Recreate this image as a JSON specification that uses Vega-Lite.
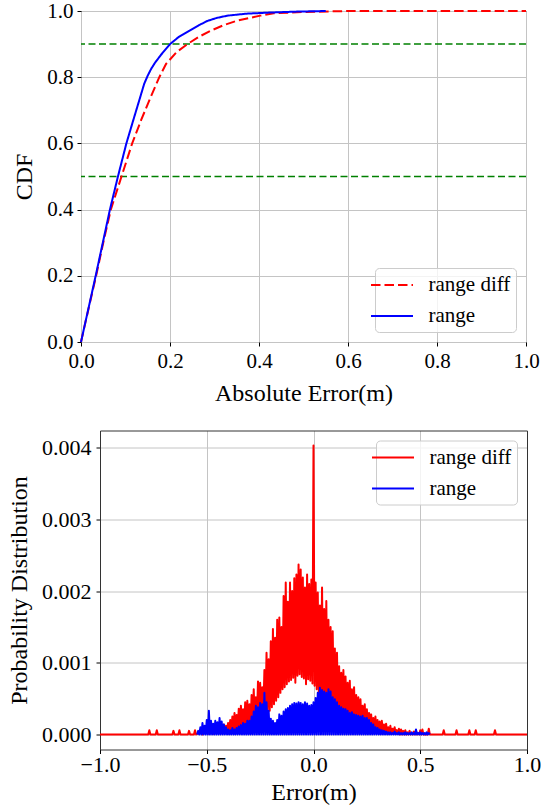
{
 "$schema": "https://vega.github.io/schema/vega-lite/v6.json",
 "padding": {"left": 7, "top": -1, "right": 0, "bottom": 0},
 "background": "white",
 "spacing": 24.5,
 "config": {
  "font": "Liberation Serif",
  "view": {"stroke": "black", "strokeWidth": 1},
  "axis": {"grid": true, "gridColor": "#c4c4c4", "gridWidth": 1, "domain": false, "tickColor": "black", "tickSize": 4, "tickWidth": 1, "labelFont": "Liberation Serif", "labelColor": "black", "labelFontSize": 21, "titleFont": "Liberation Serif", "titleFontWeight": "normal", "titleColor": "black", "titleFontSize": 24, "labelFlush": false, "labelOverlap": false},
  "legend": {"labelFont": "Liberation Serif", "labelFontSize": 21, "labelColor": "black", "symbolType": "M-2,0H2", "symbolSize": 441, "symbolStrokeWidth": 2, "labelOffset": 25, "padding": 5.5, "rowPadding": 9, "fillColor": "rgba(255,255,255,0.8)", "strokeColor": "#cccccc", "cornerRadius": 4, "offset": 10, "labelLimit": 300}
 },
 "resolve": {"scale": {"color": "independent", "strokeDash": "independent"}},
 "datasets": {
  "cdfDiff": [
   {"series":"range diff","err":0,"cdf":0},{"series":"range diff","err":0.01,"cdf":0.06},{"series":"range diff","err":0.034,"cdf":0.2},{"series":"range diff","err":0.05,"cdf":0.3},{"series":"range diff","err":0.067,"cdf":0.4},{"series":"range diff","err":0.091,"cdf":0.5},{"series":"range diff","err":0.115,"cdf":0.6},{"series":"range diff","err":0.135,"cdf":0.67},{"series":"range diff","err":0.155,"cdf":0.735},{"series":"range diff","err":0.176,"cdf":0.8},{"series":"range diff","err":0.191,"cdf":0.84},{"series":"range diff","err":0.215,"cdf":0.876},{"series":"range diff","err":0.239,"cdf":0.9},{"series":"range diff","err":0.265,"cdf":0.922},{"series":"range diff","err":0.291,"cdf":0.94},{"series":"range diff","err":0.32,"cdf":0.957},{"series":"range diff","err":0.351,"cdf":0.971},{"series":"range diff","err":0.403,"cdf":0.986},{"series":"range diff","err":0.433,"cdf":0.993},{"series":"range diff","err":0.5,"cdf":0.997},{"series":"range diff","err":0.6,"cdf":1.0},{"series":"range diff","err":1.0,"cdf":1.0}
  ],
  "cdfRange": [
   {"series":"range","err":0,"cdf":0},{"series":"range","err":0.033,"cdf":0.2},{"series":"range","err":0.065,"cdf":0.4},{"series":"range","err":0.083,"cdf":0.5},{"series":"range","err":0.102,"cdf":0.6},{"series":"range","err":0.117,"cdf":0.668},{"series":"range","err":0.132,"cdf":0.735},{"series":"range","err":0.142,"cdf":0.78},{"series":"range","err":0.15,"cdf":0.805},{"series":"range","err":0.158,"cdf":0.826},{"series":"range","err":0.167,"cdf":0.845},{"series":"range","err":0.18,"cdf":0.868},{"series":"range","err":0.2,"cdf":0.9},{"series":"range","err":0.22,"cdf":0.922},{"series":"range","err":0.243,"cdf":0.94},{"series":"range","err":0.265,"cdf":0.957},{"series":"range","err":0.284,"cdf":0.97},{"series":"range","err":0.305,"cdf":0.979},{"series":"range","err":0.329,"cdf":0.986},{"series":"range","err":0.373,"cdf":0.992},{"series":"range","err":0.42,"cdf":0.995},{"series":"range","err":0.48,"cdf":0.998},{"series":"range","err":0.55,"cdf":1.0}
  ],
  "pdfDiff": [
   {"x":-1,"p":0},{"x":-0.774,"p":0},{"x":-0.769,"p":0.00006},{"x":-0.764,"p":0},{"x":-0.739,"p":0},{"x":-0.734,"p":0.00006},{"x":-0.729,"p":0},{"x":-0.661,"p":0},{"x":-0.656,"p":0.00005},{"x":-0.651,"p":0},{"x":-0.633,"p":0},{"x":-0.628,"p":0.00006},{"x":-0.623,"p":0},{"x":-0.588,"p":0},{"x":-0.583,"p":0.00005},{"x":-0.578,"p":0},{"x":-0.56,"p":0},{"x":-0.555,"p":0.00006},{"x":-0.55,"p":0},{"x":-0.53,"p":0.00003},{"x":-0.52,"p":0},{"x":-0.5,"p":0.00005},{"x":-0.49,"p":0.00001},{"x":-0.48,"p":0.00004},{"x":-0.47,"p":0.00001},{"x":-0.46,"p":0.00006},{"x":-0.45,"p":0.00002},{"x":-0.44,"p":0.00008},{"x":-0.43,"p":0.00003},
   {"x":-0.42,"p":0.00014},{"x":-0.415,"p":0.00004},{"x":-0.41,"p":0.00012},{"x":-0.405,"p":0.00003},{"x":-0.4,"p":0.00016},{"x":-0.395,"p":0.00005},{"x":-0.39,"p":0.0002},{"x":-0.385,"p":0.00004},{"x":-0.38,"p":0.00025},{"x":-0.375,"p":0.00006},{"x":-0.37,"p":0.0003},{"x":-0.365,"p":0.00005},{"x":-0.36,"p":0.00027},{"x":-0.355,"p":0.00007},{"x":-0.35,"p":0.00036},{"x":-0.345,"p":0.00006},{"x":-0.34,"p":0.0004},{"x":-0.335,"p":0.00008},{"x":-0.33,"p":0.00035},{"x":-0.325,"p":0.00007},{"x":-0.32,"p":0.00045},{"x":-0.315,"p":0.00009},{"x":-0.31,"p":0.00047},{"x":-0.305,"p":0.0001},{"x":-0.3,"p":0.00042},{"x":-0.295,"p":0.00012},{"x":-0.29,"p":0.00055},{"x":-0.285,"p":0.00014},{"x":-0.28,"p":0.00063},{"x":-0.275,"p":0.00018},{"x":-0.27,"p":0.00052},{"x":-0.265,"p":0.0002},{"x":-0.26,"p":0.00074},{"x":-0.255,"p":0.00024},{"x":-0.25,"p":0.00072},{"x":-0.245,"p":0.00028},{"x":-0.24,"p":0.00066},{"x":-0.235,"p":0.0003},{"x":-0.23,"p":0.0009},{"x":-0.225,"p":0.00033},{"x":-0.22,"p":0.00114},{"x":-0.215,"p":0.00035},{"x":-0.21,"p":0.00105},{"x":-0.205,"p":0.00033},{"x":-0.2,"p":0.0013},{"x":-0.195,"p":0.00038},{"x":-0.19,"p":0.00147},{"x":-0.185,"p":0.00042},{"x":-0.18,"p":0.00135},{"x":-0.175,"p":0.00047},{"x":-0.17,"p":0.0016},{"x":-0.165,"p":0.00052},{"x":-0.16,"p":0.00163},{"x":-0.155,"p":0.00058},{"x":-0.15,"p":0.0015},{"x":-0.145,"p":0.00063},{"x":-0.14,"p":0.00193},{"x":-0.135,"p":0.00066},{"x":-0.13,"p":0.00212},{"x":-0.125,"p":0.0007},{"x":-0.12,"p":0.00185},{"x":-0.115,"p":0.00074},{"x":-0.11,"p":0.00212},{"x":-0.105,"p":0.00076},{"x":-0.1,"p":0.002},{"x":-0.095,"p":0.00079},{"x":-0.09,"p":0.00218},{"x":-0.085,"p":0.00072},{"x":-0.08,"p":0.00223},{"x":-0.075,"p":0.00082},{"x":-0.07,"p":0.00237},{"x":-0.065,"p":0.00084},{"x":-0.06,"p":0.0023},{"x":-0.055,"p":0.0008},{"x":-0.05,"p":0.00219},{"x":-0.045,"p":0.00078},{"x":-0.04,"p":0.00205},{"x":-0.035,"p":0.0007},{"x":-0.03,"p":0.00223},{"x":-0.025,"p":0.00077},{"x":-0.02,"p":0.0021},{"x":-0.015,"p":0.00075},{"x":-0.01,"p":0.00216},{"x":-0.005,"p":0.00071},
   {"x":0,"p":0.00403},{"x":0.005,"p":0.00068},{"x":0.01,"p":0.00212},{"x":0.015,"p":0.00063},{"x":0.02,"p":0.00198},{"x":0.025,"p":0.00058},{"x":0.03,"p":0.0018},{"x":0.035,"p":0.00054},{"x":0.04,"p":0.00205},{"x":0.045,"p":0.0005},{"x":0.05,"p":0.00175},{"x":0.055,"p":0.00048},{"x":0.06,"p":0.00186},{"x":0.065,"p":0.00045},{"x":0.07,"p":0.0016},{"x":0.075,"p":0.00042},{"x":0.08,"p":0.0015},{"x":0.085,"p":0.0004},{"x":0.09,"p":0.00144},{"x":0.095,"p":0.00036},{"x":0.1,"p":0.0012},{"x":0.105,"p":0.00033},{"x":0.11,"p":0.00114},{"x":0.115,"p":0.0003},{"x":0.12,"p":0.00095},{"x":0.125,"p":0.00028},{"x":0.13,"p":0.00086},{"x":0.135,"p":0.00026},{"x":0.14,"p":0.0009},{"x":0.145,"p":0.00024},{"x":0.15,"p":0.00081},{"x":0.155,"p":0.00022},{"x":0.16,"p":0.00072},{"x":0.165,"p":0.0002},{"x":0.17,"p":0.00075},{"x":0.175,"p":0.00018},{"x":0.18,"p":0.00063},{"x":0.185,"p":0.00017},{"x":0.19,"p":0.00066},{"x":0.195,"p":0.00015},{"x":0.2,"p":0.00055},{"x":0.205,"p":0.00014},{"x":0.21,"p":0.00052},{"x":0.215,"p":0.00013},{"x":0.22,"p":0.00049},{"x":0.225,"p":0.00012},{"x":0.23,"p":0.0004},{"x":0.235,"p":0.00011},{"x":0.24,"p":0.00042},{"x":0.245,"p":0.0001},{"x":0.25,"p":0.00035},{"x":0.255,"p":0.00009},{"x":0.26,"p":0.0003},{"x":0.265,"p":0.00008},{"x":0.27,"p":0.00028},{"x":0.275,"p":0.00007},{"x":0.28,"p":0.00023},{"x":0.285,"p":0.00006},{"x":0.29,"p":0.00025},{"x":0.295,"p":0.00005},{"x":0.3,"p":0.0002},{"x":0.305,"p":0.00005},{"x":0.31,"p":0.00018},{"x":0.315,"p":0.00004},{"x":0.32,"p":0.00019},{"x":0.325,"p":0.00004},{"x":0.33,"p":0.00014},{"x":0.335,"p":0.00003},{"x":0.34,"p":0.00015},{"x":0.345,"p":0.00003},{"x":0.35,"p":0.0001},{"x":0.355,"p":0.00002},{"x":0.36,"p":0.00012},{"x":0.365,"p":0.00002},{"x":0.37,"p":0.00008},{"x":0.375,"p":0.00001},{"x":0.38,"p":0.0001},{"x":0.385,"p":0.00001},{"x":0.39,"p":0.00006},{"x":0.395,"p":0.00001},{"x":0.4,"p":0.00008},{"x":0.405,"p":0},{"x":0.41,"p":0.00007},{"x":0.415,"p":0},{"x":0.42,"p":0.00005},{"x":0.425,"p":0},{"x":0.43,"p":0.00006},{"x":0.435,"p":0},{"x":0.44,"p":0.00003},{"x":0.445,"p":0},{"x":0.45,"p":0.00005},{"x":0.455,"p":0},{"x":0.46,"p":0.00002},{"x":0.465,"p":0},{"x":0.47,"p":0.00004},{"x":0.475,"p":0},{"x":0.48,"p":0.00005},{"x":0.485,"p":0},{"x":0.49,"p":0.00002},{"x":0.495,"p":0},{"x":0.5,"p":0.00006},{"x":0.505,"p":0},{"x":0.51,"p":0.00007},{"x":0.515,"p":0},{"x":0.535,"p":0},{"x":0.54,"p":0.00008},{"x":0.545,"p":0},{"x":0.605,"p":0},{"x":0.61,"p":0.00006},{"x":0.615,"p":0},{"x":0.665,"p":0},{"x":0.67,"p":0.00006},{"x":0.675,"p":0},{"x":0.725,"p":0},{"x":0.73,"p":0.00006},{"x":0.735,"p":0},{"x":0.755,"p":0},{"x":0.76,"p":0.00006},{"x":0.765,"p":0},{"x":0.845,"p":0},{"x":0.85,"p":0.00006},{"x":0.855,"p":0},{"x":1,"p":0}
  ],
  "pdfRange": [
   {"x":-0.545,"p":0},{"x":-0.54,"p":0.00005},{"x":-0.535,"p":0},{"x":-0.53,"p":0.0001},{"x":-0.525,"p":0},{"x":-0.52,"p":0.00016},{"x":-0.515,"p":0},{"x":-0.51,"p":0.00012},{"x":-0.505,"p":0},{"x":-0.5,"p":0.0002},{"x":-0.495,"p":0},{"x":-0.49,"p":0.00033},{"x":-0.485,"p":0},{"x":-0.48,"p":0.00019},{"x":-0.475,"p":0},{"x":-0.47,"p":0.00015},{"x":-0.465,"p":0},{"x":-0.46,"p":0.00019},{"x":-0.455,"p":0},{"x":-0.45,"p":0.00017},{"x":-0.445,"p":0},{"x":-0.44,"p":0.00023},{"x":-0.435,"p":0},{"x":-0.43,"p":0.00018},{"x":-0.425,"p":0},{"x":-0.42,"p":0.00014},{"x":-0.415,"p":0},{"x":-0.41,"p":0.0001},{"x":-0.405,"p":0},{"x":-0.4,"p":0.00007},{"x":-0.395,"p":0},{"x":-0.39,"p":0.00006},{"x":-0.385,"p":0},{"x":-0.38,"p":0.00009},{"x":-0.375,"p":0},{"x":-0.37,"p":0.00007},{"x":-0.365,"p":0},{"x":-0.36,"p":0.00009},{"x":-0.355,"p":0},{"x":-0.35,"p":0.00011},{"x":-0.345,"p":0},{"x":-0.34,"p":0.00013},{"x":-0.335,"p":0},{"x":-0.33,"p":0.00016},{"x":-0.325,"p":0},{"x":-0.32,"p":0.00015},{"x":-0.315,"p":0},{"x":-0.31,"p":0.00019},{"x":-0.305,"p":0},{"x":-0.3,"p":0.00019},{"x":-0.295,"p":0},{"x":-0.29,"p":0.00025},{"x":-0.285,"p":0},{"x":-0.28,"p":0.00032},{"x":-0.275,"p":0},{"x":-0.27,"p":0.0004},{"x":-0.265,"p":0},{"x":-0.26,"p":0.00038},{"x":-0.255,"p":0},{"x":-0.25,"p":0.00044},{"x":-0.245,"p":0},{"x":-0.24,"p":0.00042},{"x":-0.235,"p":0},{"x":-0.23,"p":0.00058},{"x":-0.225,"p":0},{"x":-0.22,"p":0.00045},{"x":-0.215,"p":0},{"x":-0.21,"p":0.00033},{"x":-0.205,"p":0},{"x":-0.2,"p":0.00022},{"x":-0.195,"p":0},{"x":-0.19,"p":0.00019},{"x":-0.185,"p":0},{"x":-0.18,"p":0.00016},{"x":-0.175,"p":0},{"x":-0.17,"p":0.0002},{"x":-0.165,"p":0},{"x":-0.16,"p":0.00028},{"x":-0.155,"p":0},{"x":-0.15,"p":0.00026},{"x":-0.145,"p":0},{"x":-0.14,"p":0.00032},{"x":-0.135,"p":0},{"x":-0.13,"p":0.00035},{"x":-0.125,"p":0},{"x":-0.12,"p":0.00037},{"x":-0.115,"p":0},{"x":-0.11,"p":0.0004},{"x":-0.105,"p":0},{"x":-0.1,"p":0.00042},{"x":-0.095,"p":0},{"x":-0.09,"p":0.00044},{"x":-0.085,"p":0},{"x":-0.08,"p":0.00043},{"x":-0.075,"p":0},{"x":-0.07,"p":0.00045},{"x":-0.065,"p":0},{"x":-0.06,"p":0.00044},{"x":-0.055,"p":0},{"x":-0.05,"p":0.00042},{"x":-0.045,"p":0},{"x":-0.04,"p":0.00045},{"x":-0.035,"p":0},{"x":-0.03,"p":0.00043},{"x":-0.025,"p":0},{"x":-0.02,"p":0.0004},{"x":-0.015,"p":0},{"x":-0.01,"p":0.00041},{"x":-0.005,"p":0},
   {"x":0,"p":0.00045},{"x":0.005,"p":0},{"x":0.01,"p":0.00051},{"x":0.015,"p":0},{"x":0.02,"p":0.00058},{"x":0.025,"p":0},{"x":0.03,"p":0.00065},{"x":0.035,"p":0},{"x":0.04,"p":0.00062},{"x":0.045,"p":0},{"x":0.05,"p":0.0006},{"x":0.055,"p":0},{"x":0.06,"p":0.00058},{"x":0.065,"p":0},{"x":0.07,"p":0.00063},{"x":0.075,"p":0},{"x":0.08,"p":0.0006},{"x":0.085,"p":0},{"x":0.09,"p":0.00052},{"x":0.095,"p":0},{"x":0.1,"p":0.00049},{"x":0.105,"p":0},{"x":0.11,"p":0.00045},{"x":0.115,"p":0},{"x":0.12,"p":0.0004},{"x":0.125,"p":0},{"x":0.13,"p":0.00038},{"x":0.135,"p":0},{"x":0.14,"p":0.00036},{"x":0.145,"p":0},{"x":0.15,"p":0.00035},{"x":0.155,"p":0},{"x":0.16,"p":0.00033},{"x":0.165,"p":0},{"x":0.17,"p":0.0003},{"x":0.175,"p":0},{"x":0.18,"p":0.00031},{"x":0.185,"p":0},{"x":0.19,"p":0.00028},{"x":0.195,"p":0},{"x":0.2,"p":0.00027},{"x":0.205,"p":0},{"x":0.21,"p":0.00026},{"x":0.215,"p":0},{"x":0.22,"p":0.00025},{"x":0.225,"p":0},{"x":0.23,"p":0.00026},{"x":0.235,"p":0},{"x":0.24,"p":0.00023},{"x":0.245,"p":0},{"x":0.25,"p":0.00023},{"x":0.255,"p":0},{"x":0.26,"p":0.0002},{"x":0.265,"p":0},{"x":0.27,"p":0.00016},{"x":0.275,"p":0},{"x":0.28,"p":0.00014},{"x":0.285,"p":0},{"x":0.29,"p":0.0001},{"x":0.295,"p":0},{"x":0.3,"p":0.00009},{"x":0.305,"p":0},{"x":0.31,"p":0.00007},{"x":0.315,"p":0},{"x":0.32,"p":0.00006},{"x":0.325,"p":0},{"x":0.33,"p":0.00005},{"x":0.335,"p":0},{"x":0.34,"p":0.00004},{"x":0.345,"p":0},{"x":0.35,"p":0.00003},{"x":0.355,"p":0},{"x":0.36,"p":0.00003},{"x":0.365,"p":0},{"x":0.37,"p":0.00002},{"x":0.375,"p":0},{"x":0.38,"p":0.00004},{"x":0.385,"p":0},{"x":0.39,"p":0.00002},{"x":0.395,"p":0},{"x":0.4,"p":0.00003},{"x":0.405,"p":0},{"x":0.41,"p":0.00002},{"x":0.415,"p":0},{"x":0.42,"p":0.00002},{"x":0.425,"p":0},{"x":0.43,"p":0.00003},{"x":0.435,"p":0},{"x":0.44,"p":0.00002},{"x":0.445,"p":0},{"x":0.45,"p":0.00002},{"x":0.455,"p":0},{"x":0.46,"p":0.00003},{"x":0.465,"p":0},{"x":0.47,"p":0.00002},{"x":0.475,"p":0},{"x":0.48,"p":0.00007},{"x":0.485,"p":0},{"x":0.49,"p":0.00002},{"x":0.495,"p":0},{"x":0.5,"p":0.00003},{"x":0.505,"p":0},{"x":0.51,"p":0.00002},{"x":0.515,"p":0},{"x":0.52,"p":0.00002},{"x":0.525,"p":0},{"x":0.53,"p":0.00003},{"x":0.535,"p":0},{"x":0.54,"p":0.00002},{"x":0.545,"p":0}
  ]
 },
 "vconcat": [
  {
   "width": 445,
   "height": 331,
   "layer": [
    {
     "data": {"values": [{"cdf": 0.5}, {"cdf": 0.9}]},
     "mark": {"type": "rule", "color": "#008000", "strokeWidth": 1.5, "strokeDash": [7, 3.5]},
     "encoding": {
      "y": {"field": "cdf", "type": "quantitative", "scale": {"domain": [0, 1], "nice": false}, "axis": {"title": "CDF", "values": [0, 0.2, 0.4, 0.6, 0.8, 1], "format": ".1f", "labelPadding": 4, "titlePadding": 10.75}}
     }
    },
    {
     "data": {"name": "cdfDiff"},
     "mark": {"type": "line", "strokeWidth": 2, "strokeJoin": "round"},
     "encoding": {
      "x": {"field": "err", "type": "quantitative", "scale": {"domain": [0, 1], "nice": false}, "axis": {"title": "Absolute Error(m)", "values": [0, 0.2, 0.4, 0.6, 0.8, 1], "format": ".1f", "labelPadding": 4, "titlePadding": 10.5}},
      "y": {"field": "cdf", "type": "quantitative"},
      "color": {"field": "series", "type": "nominal", "scale": {"domain": ["range diff", "range"], "range": ["#ff0000", "#0000ff"]}, "legend": {"orient": "bottom-right", "title": null}},
      "strokeDash": {"field": "series", "type": "nominal", "scale": {"domain": ["range diff", "range"], "range": [[9.5, 4], [1, 0]]}, "legend": {"orient": "bottom-right", "title": null}}
     }
    },
    {
     "data": {"name": "cdfRange"},
     "mark": {"type": "line", "strokeWidth": 2, "strokeJoin": "round"},
     "encoding": {
      "x": {"field": "err", "type": "quantitative"},
      "y": {"field": "cdf", "type": "quantitative"},
      "color": {"field": "series", "type": "nominal"},
      "strokeDash": {"field": "series", "type": "nominal"}
     }
    }
   ]
  },
  {
   "width": 446,
   "height": 319,
   "view": {"stroke": null},
   "resolve": {"axis": {"x": "independent", "y": "independent"}},
   "layer": [
    {
     "data": {"name": "pdfDiff"},
     "mark": {"type": "line", "strokeWidth": 2, "strokeJoin": "round"},
     "encoding": {
      "x": {"field": "x", "type": "quantitative", "scale": {"domain": [-1, 1], "nice": false, "range": [19, 446]}, "axis": {"title": "Error(m)", "values": [-1, -0.5, 0, 0.5, 1], "format": ".1f", "labelFontSize": 22, "labelPadding": 1, "titlePadding": 5, "domain": true, "domainColor": "#333333", "domainWidth": 1}},
      "y": {"field": "p", "type": "quantitative", "scale": {"domain": [-0.00021, 0.00424], "nice": false, "zero": false}, "axis": {"title": "Probability Distribution", "values": [0, 0.001, 0.002, 0.003, 0.004], "format": ".3f", "labelFontSize": 22, "labelPadding": 5, "titlePadding": 10.5, "offset": -19, "domain": true, "domainColor": "#333333", "domainWidth": 1}},
      "color": {"datum": "range diff", "type": "nominal", "scale": {"domain": ["range diff", "range"], "range": ["#ff0000", "#0000ff"]}, "legend": {"orient": "top-right", "title": null}}
     }
    },
    {
     "data": {"name": "pdfRange"},
     "mark": {"type": "line", "strokeWidth": 2, "strokeJoin": "round"},
     "encoding": {
      "x": {"field": "x", "type": "quantitative", "axis": {"orient": "top", "labels": false, "ticks": false, "grid": false, "title": null, "domain": true, "domainColor": "#333333", "domainWidth": 1}},
      "y": {"field": "p", "type": "quantitative", "axis": {"orient": "right", "labels": false, "ticks": false, "grid": false, "title": null, "domain": true, "domainColor": "#333333", "domainWidth": 1}},
      "color": {"datum": "range", "type": "nominal"}
     }
    }
   ]
  }
 ]
}
